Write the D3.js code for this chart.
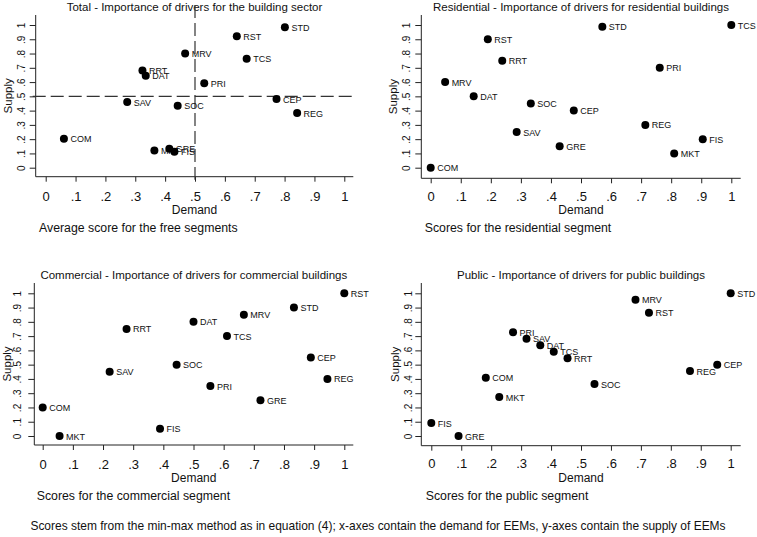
<!DOCTYPE html>
<html>
<head>
<meta charset="utf-8">
<script src="https://cdn.jsdelivr.net/npm/d3@7"></script>
<style>
html,body{margin:0;padding:0;background:#fff;}
svg{display:block;font-family:"Liberation Sans",Arial,sans-serif;}
</style>
</head>
<body>
<svg id="chart" width="757" height="537"></svg>
<script>
// ---------- data ----------
const tickValues = [0,0.1,0.2,0.3,0.4,0.5,0.6,0.7,0.8,0.9,1];
const tickLabels = ["0",".1",".2",".3",".4",".5",".6",".7",".8",".9","1"];

const totalLabels = ["COM","SAV","RRT","DAT","MKT","GRE","FIS","SOC","MRV","PRI","RST","TCS","CEP","STD","REG"];
const totalDemand = [0.061,0.273,0.324,0.335,0.364,0.414,0.431,0.442,0.467,0.531,0.640,0.673,0.773,0.801,0.842];
const totalSupply = [0.203,0.460,0.682,0.645,0.121,0.133,0.112,0.435,0.801,0.591,0.921,0.764,0.481,0.984,0.383];

const resLabels = ["COM","MRV","DAT","RST","RRT","SAV","SOC","GRE","CEP","STD","REG","PRI","MKT","FIS","TCS"];
const resDemand = [0,0.048,0.143,0.190,0.238,0.286,0.333,0.429,0.476,0.571,0.714,0.762,0.810,0.905,1];
const resSupply = [0,0.60,0.50,0.90,0.75,0.25,0.45,0.15,0.40,0.988,0.30,0.70,0.10,0.20,1];

const comLabels = ["COM","MKT","SAV","RRT","FIS","SOC","DAT","PRI","TCS","MRV","GRE","STD","CEP","REG","RST"];
const comDemand = [0,0.056,0.222,0.278,0.389,0.444,0.5,0.556,0.611,0.667,0.722,0.833,0.889,0.944,1];
const comSupply = [0.20,0,0.45,0.75,0.05,0.50,0.80,0.35,0.70,0.85,0.25,0.90,0.55,0.40,1];

const pubLabels = ["FIS","GRE","COM","MKT","PRI","SAV","DAT","TCS","RRT","SOC","MRV","RST","REG","CEP","STD"];
const pubDemand = [0,0.091,0.182,0.227,0.273,0.318,0.364,0.409,0.455,0.545,0.682,0.727,0.864,0.955,1];
const pubSupply = [0.091,0,0.409,0.273,0.727,0.682,0.636,0.591,0.545,0.364,0.955,0.864,0.455,0.5,1];

const titles = [
  "Total - Importance of drivers for the building sector",
  "Residential - Importance of drivers for residential buildings",
  "Commercial - Importance of drivers for commercial buildings",
  "Public - Importance of drivers for public buildings"
];
const subtitles = [
  "Average score for the free segments",
  "Scores for the residential segment",
  "Scores for the commercial segment",
  "Scores for the public segment"
];
const footer = "Scores stem from the min-max method as in equation (4); x-axes contain the demand for EEMs, y-axes contain the supply of EEMs";

// ---------- layout ----------
const panels = [
  {labels: totalLabels, xs: totalDemand, ys: totalSupply, x0:45.7, x1:344.3, y0:167.7, y1:25, axX:35.7, axY:176.7, right:353.3, top:15, tickLabY:196.5, demandY:209.5, subY:228, subX:39, yTickX:21.5, supplyX:7.5, titleY:7, dashed:true},
  {labels: resLabels, xs: resDemand, ys: resSupply, x0:430.7, x1:731.3, y0:167.7, y1:25, axX:421.3, axY:178.3, right:740.7, top:15, tickLabY:197, demandY:210, subY:228, subX:424.7, yTickX:406.5, supplyX:393, titleY:7, dashed:false},
  {labels: comLabels, xs: comDemand, ys: comSupply, x0:42.7, x1:344.3, y0:436, y1:293.3, axX:34.3, axY:445, right:353.3, top:283, tickLabY:464, demandY:477.5, subY:495.5, subX:36.7, yTickX:17.5, supplyX:6.7, titleY:275, dashed:false},
  {labels: pubLabels, xs: pubDemand, ys: pubSupply, x0:431.3, x1:730.7, y0:436, y1:293.3, axX:421.3, axY:445.7, right:740.7, top:283, tickLabY:464, demandY:477.5, subY:495.5, subX:425.7, yTickX:408, supplyX:394.7, titleY:275, dashed:false}
];

const svg = d3.select("#chart");

panels.forEach((p, i) => {
  const g = svg.append("g");
  const x = d3.scaleLinear().domain([0,1]).range([p.x0, p.x1]);
  const y = d3.scaleLinear().domain([0,1]).range([p.y0, p.y1]);

  // title
  g.append("text").attr("x", (p.axX + p.right)/2).attr("y", p.titleY)
    .attr("text-anchor","middle").attr("dominant-baseline","central")
    .attr("font-size", 11.5).attr("fill","#111").text(titles[i]);

  // x axis
  const xAxis = d3.axisBottom(x).tickValues(tickValues).tickFormat((d,k)=>tickLabels[k]).tickSize(5).tickSizeOuter(0);
  const gx = g.append("g").attr("transform", `translate(0,${p.axY})`).call(xAxis);
  gx.select(".domain").remove();
  gx.selectAll(".tick line").attr("stroke","#222").attr("stroke-width",1);
  gx.selectAll(".tick text").attr("font-size", 13).attr("fill","#111")
    .attr("font-family","'Liberation Sans',Arial,sans-serif")
    .attr("y", p.tickLabY - p.axY).attr("dy", null).attr("dominant-baseline","central");
  g.append("line").attr("x1", p.axX).attr("x2", p.right).attr("y1", p.axY).attr("y2", p.axY)
    .attr("stroke","#222").attr("stroke-width",1);

  // y axis
  const yAxis = d3.axisLeft(y).tickValues(tickValues).tickFormat((d,k)=>tickLabels[k]).tickSize(6).tickSizeOuter(0);
  const gy = g.append("g").attr("transform", `translate(${p.axX},0)`).call(yAxis);
  gy.select(".domain").remove();
  gy.selectAll(".tick line").attr("stroke","#222").attr("stroke-width",1);
  gy.selectAll(".tick text").attr("font-size", 10).attr("fill","#111")
    .attr("font-family","'Liberation Sans',Arial,sans-serif")
    .attr("x", null).attr("dy", null)
    .attr("text-anchor","middle").attr("dominant-baseline","central")
    .attr("transform", `translate(${p.yTickX - p.axX},0) rotate(-90)`);
  g.append("line").attr("x1", p.axX).attr("x2", p.axX).attr("y1", p.top).attr("y2", p.axY)
    .attr("stroke","#222").attr("stroke-width",1);

  // axis titles
  g.append("text").attr("x", (p.axX + p.right)/2).attr("y", p.demandY)
    .attr("text-anchor","middle").attr("dominant-baseline","central")
    .attr("font-size", 12).attr("fill","#111").text("Demand");
  g.append("text").attr("transform", `translate(${p.supplyX},${(p.top + p.axY)/2}) rotate(-90)`)
    .attr("text-anchor","middle").attr("dominant-baseline","central")
    .attr("font-size", 11.5).attr("fill","#111").text("Supply");
  g.append("text").attr("x", p.subX).attr("y", p.subY)
    .attr("dominant-baseline","central")
    .attr("font-size", 12.3).attr("fill","#111").text(subtitles[i]);

  // reference lines
  if (p.dashed) {
    g.append("line").attr("x1", x(0.5)).attr("x2", x(0.5)).attr("y1", 5).attr("y2", p.axY + 3)
      .attr("stroke","#333").attr("stroke-width",1.2).attr("stroke-dasharray","13,5");
    g.append("line").attr("x1", p.axX - 3).attr("x2", p.right).attr("y1", y(0.5)).attr("y2", y(0.5))
      .attr("stroke","#333").attr("stroke-width",1.2).attr("stroke-dasharray","13,5");
  }

  // points
  const pts = p.labels.map((l,k)=>({l, xv:p.xs[k], yv:p.ys[k]}));
  const pg = g.selectAll("g.pt").data(pts).enter().append("g").attr("class","pt");
  pg.append("circle").attr("cx", d=>x(d.xv)).attr("cy", d=>y(d.yv)).attr("r", 4).attr("fill","#000");
  pg.append("text").attr("x", d=>x(d.xv)+6.5).attr("y", d=>y(d.yv)+0.5)
    .attr("dominant-baseline","central").attr("font-size", 9).attr("fill","#111").text(d=>d.l);
});

const ft = svg.append("text").attr("x", 378).attr("y", 526).attr("text-anchor","middle")
  .attr("dominant-baseline","central").attr("font-size", 11).attr("fill","#111").text(footer);
// fit footer to the width it occupies in the reference
const fw = ft.node().getComputedTextLength();
if (fw > 0) ft.attr("font-size", 11 * 696 / fw);
</script>
</body>
</html>
